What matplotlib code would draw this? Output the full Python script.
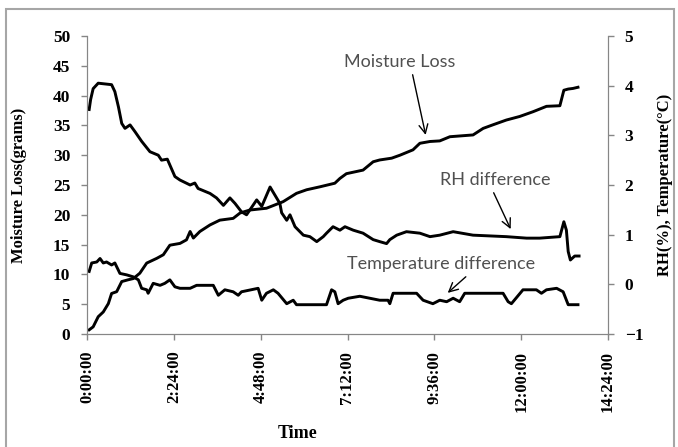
import matplotlib
matplotlib.use("Agg")
import matplotlib.pyplot as plt
from matplotlib.patches import Rectangle
from matplotlib.ticker import FixedLocator, FuncFormatter

# time in hours
ml_time = [0.06, 0.17, 0.31, 0.45, 0.59, 0.68, 0.82, 0.96, 1.14, 1.28, 1.46, 1.65,
           1.93, 2.11, 2.29, 2.57, 2.75, 2.85, 2.94, 3.12, 3.40, 3.67, 4.04, 4.23,
           4.50, 4.96, 5.42, 5.79, 6.07, 6.44, 6.85, 6.99, 7.17, 7.63, 7.91, 8.09,
           8.42, 8.65, 9.01, 9.20, 9.48, 9.75, 10.03, 10.67, 10.95, 11.22, 11.59,
           11.96, 12.33, 12.70, 13.07, 13.18, 13.30, 13.43, 13.57]
moisture_loss = [0.7, 1.2, 2.9, 3.7, 5.1, 6.8, 7.1, 8.8, 9.1, 9.3, 10.2, 11.9,
                 12.7, 13.3, 14.9, 15.2, 15.8, 17.2, 16.1, 17.2, 18.3, 19.1, 19.4, 20.3,
                 20.8, 21.1, 22.2, 23.6, 24.2, 24.7, 25.3, 26.1, 26.9, 27.5, 28.9, 29.2,
                 29.5, 30.0, 30.9, 32.0, 32.3, 32.4, 33.1, 33.4, 34.5, 35.1, 35.9,
                 36.5, 37.3, 38.2, 38.3, 40.9, 41.1, 41.2, 41.4]

rh_time = [0.06, 0.10, 0.17, 0.31, 0.68, 0.77, 0.87, 0.96, 1.05, 1.19, 1.33, 1.51,
           1.74, 1.97, 2.06, 2.22, 2.43, 2.57, 2.85, 2.98, 3.07, 3.40, 3.58, 3.77,
           3.95, 4.09, 4.27, 4.41, 4.69, 4.83, 5.06, 5.33, 5.38, 5.52, 5.61, 5.75,
           5.98, 6.16, 6.35, 6.53, 6.62, 6.80, 6.99, 7.13, 7.36, 7.63, 7.91, 8.09,
           8.28, 8.37, 8.56, 8.83, 9.20, 9.48, 9.75, 10.12, 10.67, 11.59, 12.15,
           12.51, 13.07, 13.18, 13.25, 13.30, 13.36, 13.48, 13.60]
rh_diff = [3.52, 3.72, 3.94, 4.05, 4.02, 3.88, 3.57, 3.24, 3.14, 3.21, 3.07, 2.88,
           2.67, 2.60, 2.50, 2.52, 2.17, 2.10, 2.00, 2.04, 1.93, 1.83, 1.74, 1.59,
           1.74, 1.63, 1.46, 1.40, 1.70, 1.57, 1.96, 1.63, 1.44, 1.29, 1.40, 1.16,
           0.99, 0.96, 0.86, 0.96, 1.03, 1.16, 1.09, 1.16, 1.09, 1.03, 0.90, 0.86,
           0.82, 0.90, 0.99, 1.06, 1.03, 0.96, 0.99, 1.06, 0.99, 0.96, 0.93,
           0.93, 0.96, 1.26, 1.09, 0.66, 0.49, 0.57, 0.57]

t_time = [0.06, 0.13, 0.27, 0.36, 0.45, 0.54, 0.68, 0.77, 0.91, 1.10, 1.28, 1.42,
          1.51, 1.65, 1.69, 1.83, 2.02, 2.15, 2.29, 2.43, 2.57, 2.85, 3.03, 3.49,
          3.63, 3.81, 4.04, 4.18, 4.27, 4.73, 4.83, 4.96, 5.15, 5.28, 5.52, 5.70,
          5.79, 6.62, 6.76, 6.85, 6.94, 7.08, 7.22, 7.54, 8.09, 8.32, 8.37, 8.46,
          9.11, 9.29, 9.56, 9.75, 9.94, 10.12, 10.30, 10.44, 11.50, 11.64, 11.73,
          12.05, 12.42, 12.56, 12.70, 12.98, 13.16, 13.30, 13.57]
temp_diff = [0.26, 0.43, 0.45, 0.52, 0.43, 0.45, 0.39, 0.43, 0.22, 0.19, 0.15, 0.09,
             -0.08, -0.11, -0.18, 0.02, -0.02, 0.02, 0.09, -0.05, -0.08, -0.08, -0.02, -0.02,
             -0.22, -0.11, -0.15, -0.22, -0.15, -0.08, -0.32, -0.18, -0.11, -0.18, -0.39, -0.32,
             -0.41, -0.41, -0.11, -0.15, -0.39, -0.32, -0.28, -0.24, -0.32, -0.32, -0.39, -0.18,
             -0.18, -0.32, -0.39, -0.32, -0.35, -0.28, -0.35, -0.18, -0.18, -0.35, -0.39,
             -0.11, -0.11, -0.18, -0.11, -0.08, -0.15, -0.41, -0.41]

x_ticks = [0, 2.4, 4.8, 7.2, 9.6, 12.0, 14.4]


def hms(v, pos=None):
    total = int(round(v * 3600))
    return f"{total // 3600}:{(total % 3600) // 60:02d}:{total % 60:02d}"


fig = plt.figure(figsize=(6.78, 4.47), dpi=100)
ax = fig.add_axes([87 / 678, 1 - 334 / 447, 521 / 678, 298 / 447])
ax2 = ax.twinx()

grey = "#868686"
lw = 2.1
ax.plot(ml_time, moisture_loss, color="black", lw=lw, solid_joinstyle="round")
ax2.plot(rh_time, rh_diff, color="black", lw=lw, solid_joinstyle="round")
ax2.plot(t_time, temp_diff, color="black", lw=lw, solid_joinstyle="round")

ax.set_xlim(0, 14.4)
ax.set_ylim(0, 50)
ax2.set_ylim(-1, 5)
ax.xaxis.set_major_locator(FixedLocator(x_ticks))
ax.xaxis.set_major_formatter(FuncFormatter(hms))
ax.set_yticks(range(0, 51, 5))
ax2.set_yticks(range(-1, 6))

tick_font = dict(family="Liberation Serif", weight="bold")
for a in (ax, ax2):
    for s in a.spines.values():
        s.set_color(grey)
    a.spines["top"].set_visible(False)
    a.tick_params(colors=grey, length=4, width=1, direction="out", pad=8, labelcolor="black")
for lab in ax.get_yticklabels() + ax2.get_yticklabels():
    lab.set_fontproperties(tick_font)
    lab.set_fontsize(12.5)
for lab in ax.get_xticklabels():
    lab.set_fontproperties(tick_font)
    lab.set_fontsize(12)
    lab.set_rotation(90)

ax.set_ylabel("Moisture Loss(grams)", fontsize=12, **tick_font)
ax.yaxis.set_label_coords(-0.115, 0.5)
ax2.set_ylabel("RH(%), Temperature(°C)", fontsize=12, rotation=90, **tick_font)
ax2.yaxis.set_label_coords(1.094, 0.5)
ax.set_xlabel("Time", fontsize=13, **tick_font)
ax.xaxis.set_label_coords(0.405, -0.305)

note = dict(family="Lato", fontsize=13, color="#505050", ha="center", va="center")
arrow = dict(arrowstyle="->", color="black", lw=1, mutation_scale=16, shrinkA=0, shrinkB=0)
ax.text(8.65, 45.6, "Moisture Loss", **note)
ax.annotate("", xy=(9.36, 33.4), xytext=(9.0, 43.5), arrowprops=arrow)
ax.text(11.27, 25.8, "RH difference", **note)
ax.annotate("", xy=(11.71, 17.6), xytext=(11.24, 23.7), arrowprops=arrow)
ax.text(9.78, 11.7, "Temperature difference", **note)
ax.annotate("", xy=(9.97, 6.9), xytext=(10.47, 9.6), arrowprops=arrow)

fig.patches.append(Rectangle((6 / 678, -0.05), 668 / 678, 1.05 - 9 / 447,
                             transform=fig.transFigure, fill=False,
                             edgecolor="#a6a6a6", lw=1.5))

fig.savefig("out.png", dpi=100)
